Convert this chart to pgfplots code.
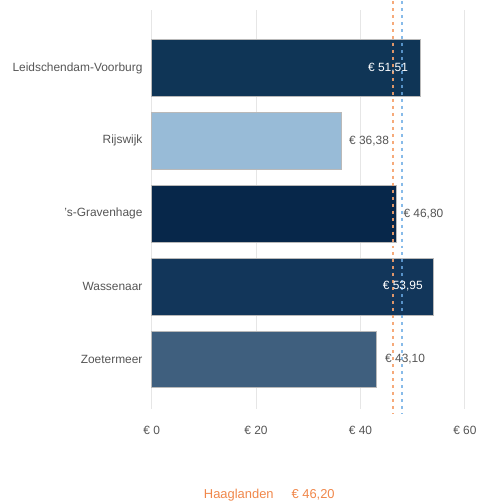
\documentclass[border=0pt]{standalone}
\usepackage{fontspec}
\setmainfont{Liberation Sans}
\usepackage{pgfplots}
\pgfplotsset{compat=1.18}
\definecolor{cLV}{HTML}{0F3556}
\definecolor{cRW}{HTML}{98BBD7}
\definecolor{cGH}{HTML}{07274A}
\definecolor{cWN}{HTML}{12365A}
\definecolor{cZM}{HTML}{3F5F7E}
\definecolor{gridc}{HTML}{E6E6E6}
\definecolor{txt}{HTML}{555555}
\definecolor{orangeL}{HTML}{F5A16C}
\definecolor{blueL}{HTML}{6AAAE4}
\definecolor{legtxt}{HTML}{F0874A}
\pgfplotsset{
  mybar/.style={xbar, bar shift=0pt, bar width=0.78, draw=gray!55, line width=0.6bp,
    nodes near coords, point meta=explicit symbolic,
    every node near coord/.append style={font=\fontsize{12}{14}\selectfont}},
  inlab/.style={nodes near coords style={anchor=east, text=white, xshift=-#1}},
  outlab/.style={nodes near coords style={anchor=west, text=txt, xshift=#1}},
  dotline/.style={draw=#1, line width=2.2bp, dash pattern=on 3bp off 4bp, mark=none},
}
\begin{document}
\begin{tikzpicture}
\begin{axis}[
  scale only axis,
  width=314bp, height=400bp,
  xmin=0, xmax=60,
  ymin=-0.795, ymax=4.685,
  y dir=reverse,
  axis line style={draw=none},
  xtick={0,20,40,60},
  xticklabels={€ 0,€ 20,€ 40,€ 60},
  ytick={0,1,2,3,4},
  yticklabels={Leidschendam-Voorburg,Rijswijk,'s-Gravenhage,Wassenaar,Zoetermeer},
  major tick length=0pt,
  xmajorgrids, grid style={gridc, line width=0.8bp},
  tick label style={font=\fontsize{12}{14}\selectfont, text=txt},
  yticklabel style={anchor=east, inner sep=0pt, xshift=-9bp},
  xticklabel style={anchor=north, inner sep=0pt, yshift=-17bp},
  clip=false,
]
\addplot[mybar, fill=cLV, inlab=9bp] coordinates {(51.51,0) [€ 51,51]};
\addplot[mybar, fill=cRW, outlab=4bp] coordinates {(36.38,1) [€ 36,38]};
\addplot[mybar, fill=cGH, outlab=4bp] coordinates {(46.80,2) [€ 46,80]};
\addplot[mybar, fill=cWN, inlab=7bp] coordinates {(53.95,3) [€ 53,95]};
\addplot[mybar, fill=cZM, outlab=5bp] coordinates {(43.10,4) [€ 43,10]};
\addplot[dotline=orangeL, opacity=0.9] coordinates {(46.20,-0.92) (46.20,4.75)};
\addplot[dotline=blueL, opacity=0.8] coordinates {(47.90,-0.92) (47.90,4.75)};
\end{axis}
\node[anchor=base, text=legtxt, font=\fontsize{13}{15}\selectfont] at ([xshift=118bp,yshift=-89bp]current axis.south west) {Haaglanden\hspace{18bp}€ 46,20};
\path (current axis.south west) ++(-152bp,-94bp) rectangle ++(479bp,504bp);
\end{tikzpicture}
\end{document}
